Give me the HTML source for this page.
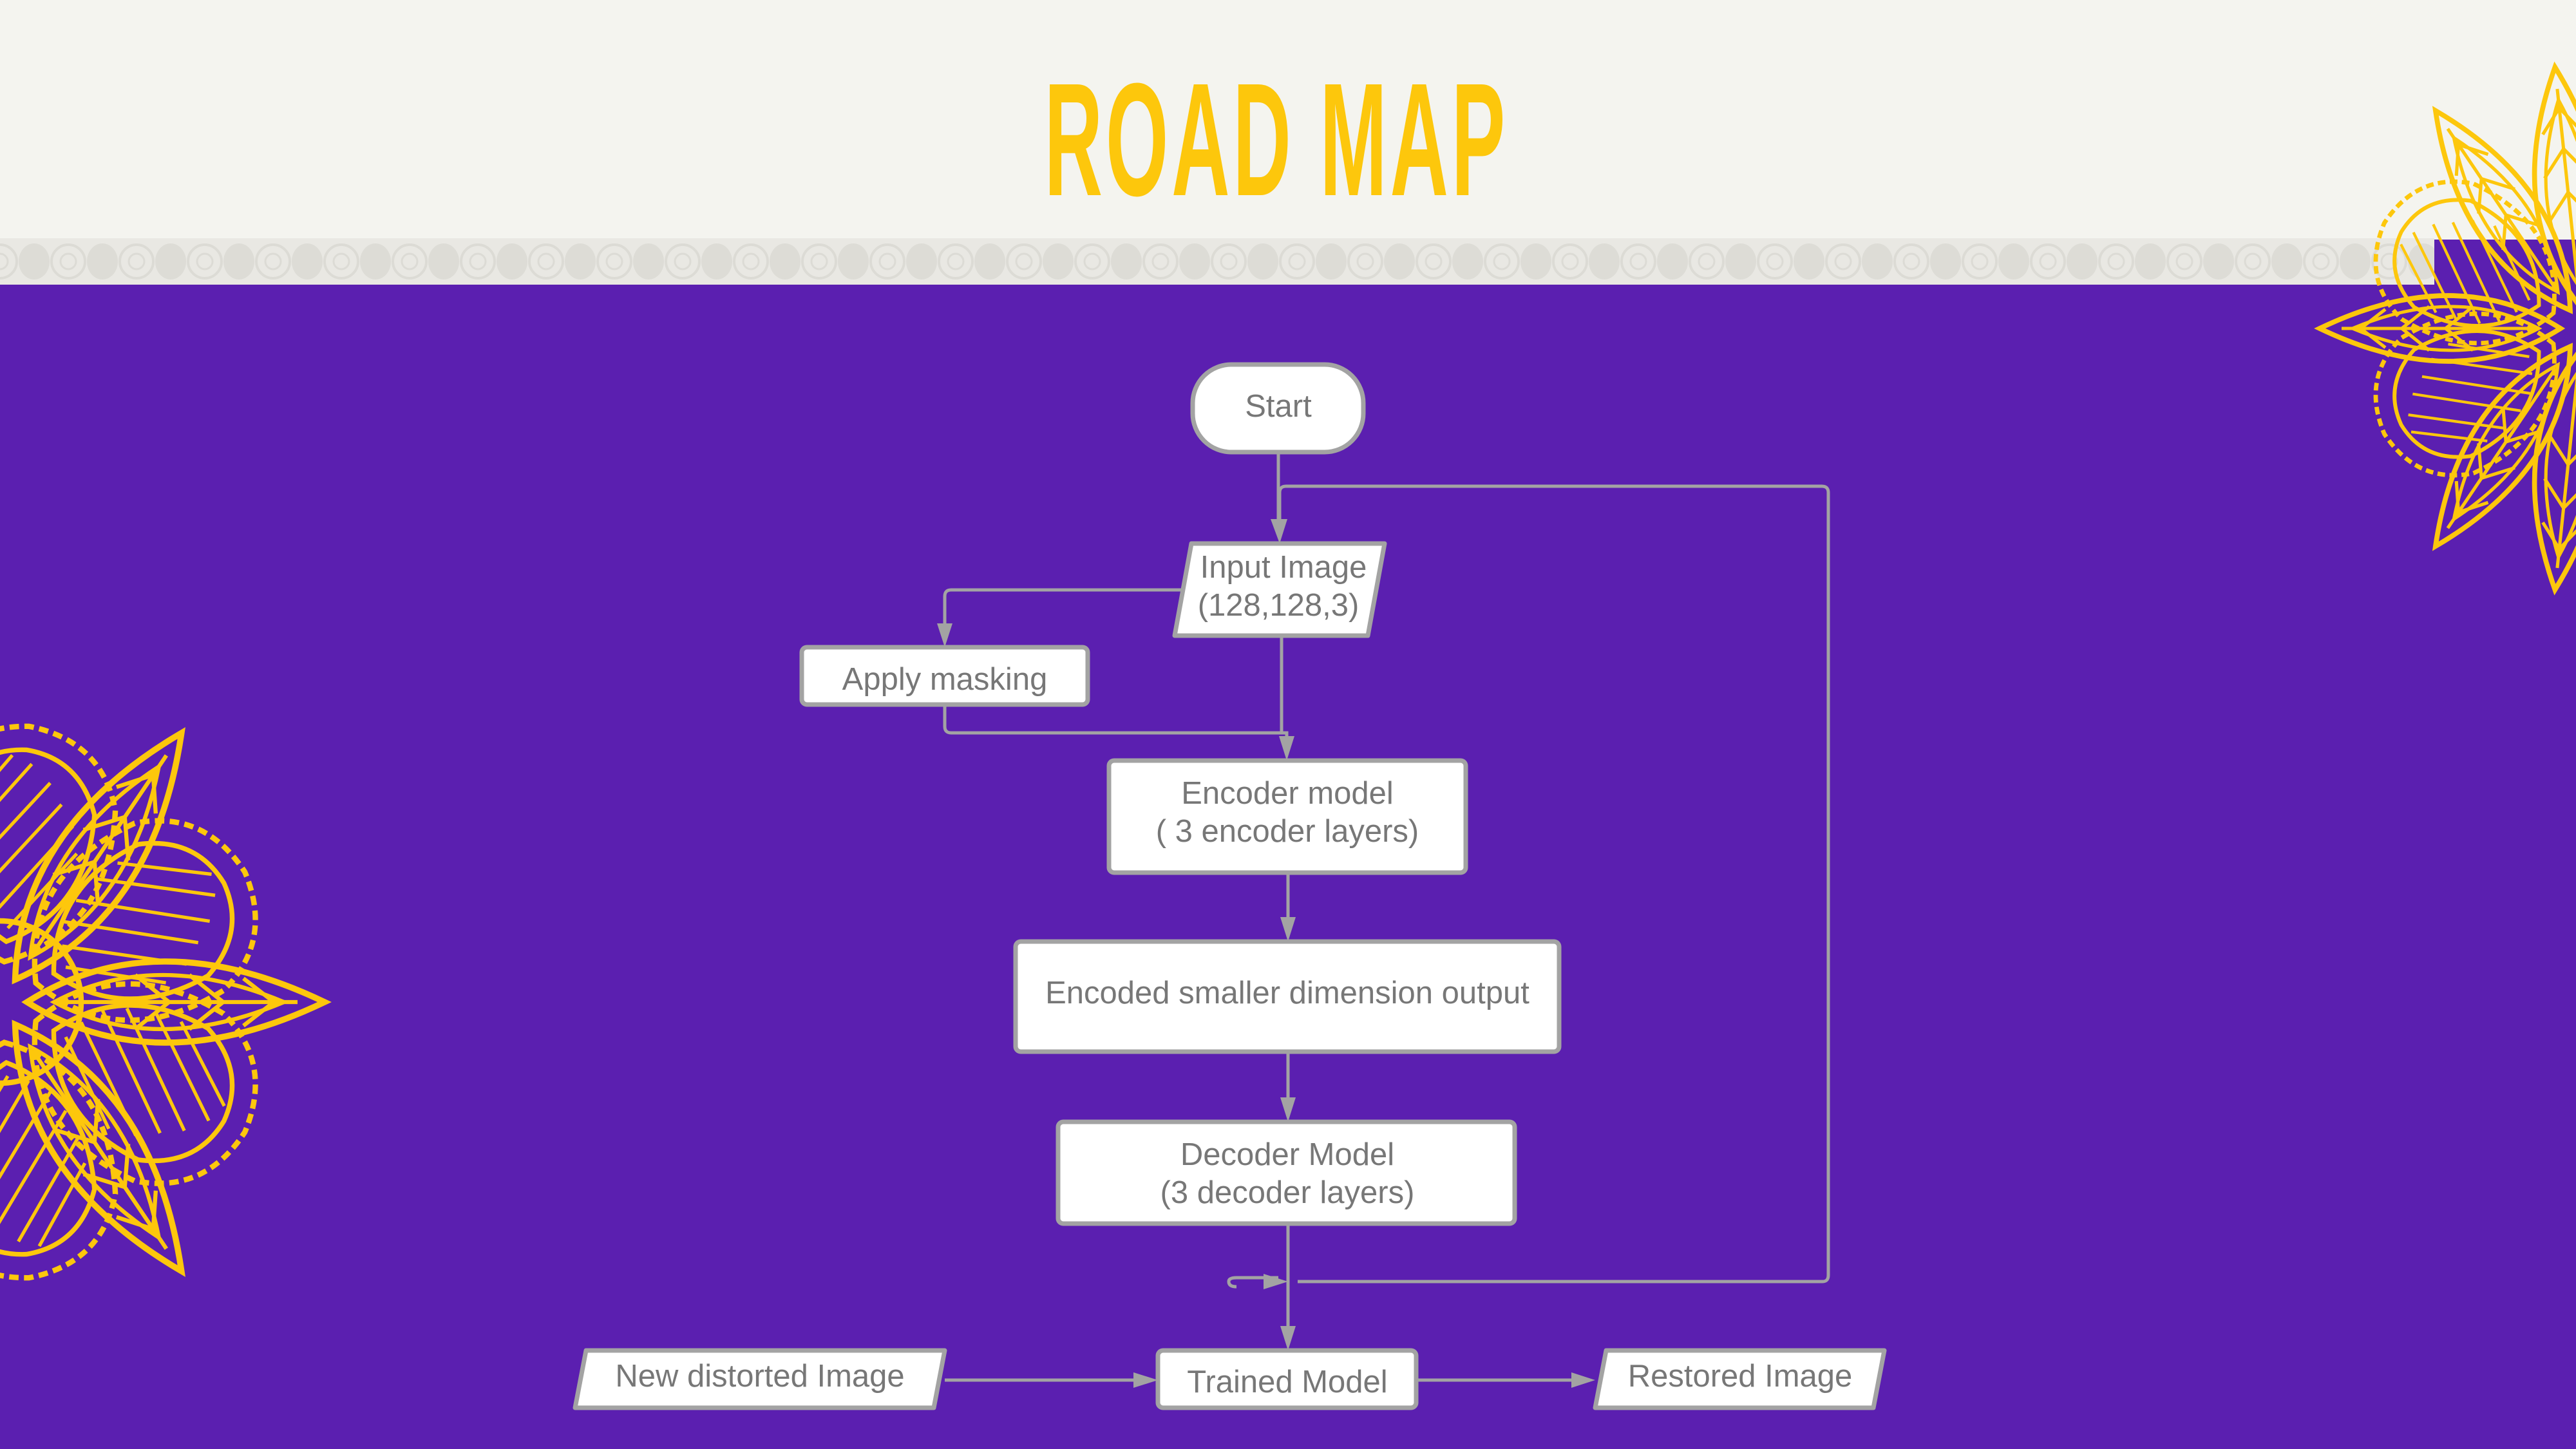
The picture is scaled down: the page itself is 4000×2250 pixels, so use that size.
<!DOCTYPE html>
<html><head><meta charset="utf-8"><style>
html,body{margin:0;padding:0;}
body{width:4000px;height:2250px;position:relative;overflow:hidden;background:#5b1fb0;font-family:"Liberation Sans",sans-serif;}
.hdr{position:absolute;left:0;top:0;width:4000px;height:372px;background:#f4f4ef;}
.title{position:absolute;left:1982px;top:92px;transform:translateX(-50%) scaleX(0.5);transform-origin:center;font-size:250px;font-weight:bold;color:#fdc70c;white-space:nowrap;letter-spacing:10px;line-height:1;}
svg{position:absolute;left:0;top:0;}
</style></head><body>
<div class="hdr"></div>
<svg width="4000" height="2250" viewBox="0 0 4000 2250">
<defs>
<pattern id="band" x="0" y="370" width="106" height="72" patternUnits="userSpaceOnUse">
<rect width="106" height="72" fill="#e9e8e3"/>
<ellipse cx="53" cy="36" rx="24" ry="28" fill="#dddcd6"/>
<circle cx="0" cy="36" r="26" fill="none" stroke="#dcdbd5" stroke-width="4"/>
<circle cx="106" cy="36" r="26" fill="none" stroke="#dcdbd5" stroke-width="4"/>
<circle cx="0" cy="36" r="12" fill="none" stroke="#dcdbd5" stroke-width="3"/>
<circle cx="106" cy="36" r="12" fill="none" stroke="#dcdbd5" stroke-width="3"/>
</pattern>
<g id="petal">
<path d="M40,0 Q230,-120 480,0 Q230,120 40,0Z" fill="none" stroke="#fdc70c" stroke-width="9"/>
<path d="M80,0 Q230,-80 420,0 Q230,80 80,0Z" fill="none" stroke="#fdc70c" stroke-width="6"/>
<line x1="90" y1="0" x2="440" y2="0" stroke="#fdc70c" stroke-width="6"/>
<path d="M200,-40 L250,0 L200,40 M280,-40 L330,0 L280,40 M360,-35 L405,0 L360,35" fill="none" stroke="#fdc70c" stroke-width="6"/>
</g>
<g id="round">
<path d="M60,0 Q120,-150 300,-140 Q400,-110 410,0 Q400,110 300,140 Q120,150 60,0Z" fill="none" stroke="#fdc70c" stroke-width="8" stroke-dasharray="14 8"/>
<path d="M90,0 Q150,-115 290,-110 Q370,-80 375,0 Q370,80 290,110 Q150,115 90,0Z" fill="none" stroke="#fdc70c" stroke-width="7"/>
<path d="M140,-60 L300,60 M170,-80 L330,40 M210,-95 L355,10 M250,-100 L365,-20 M120,-30 L270,80 M110,0 L230,90" stroke="#fdc70c" stroke-width="5"/>
</g>
</defs>
<rect x="0" y="370" width="3780" height="72" fill="url(#band)"/>
<rect x="0" y="442" width="4000" height="1808" fill="#5b1fb0"/>

<!-- left mandala -->
<g transform="translate(0,1556) scale(1.05)">
<use href="#petal" transform="rotate(0)"/>
<use href="#petal" transform="rotate(-56)"/>
<use href="#petal" transform="rotate(56)"/>
<use href="#round" transform="rotate(-28)"/>
<use href="#round" transform="rotate(28)"/>
<use href="#round" transform="rotate(-84)"/>
<use href="#round" transform="rotate(84)"/>
<circle cx="0" cy="0" r="120" fill="none" stroke="#fdc70c" stroke-width="8"/>
</g>
<!-- right mandala -->
<g transform="translate(4010,510) scale(0.85)">
<use href="#petal" transform="rotate(180)"/>
<use href="#petal" transform="rotate(124)"/>
<use href="#petal" transform="rotate(236)"/>
<use href="#round" transform="rotate(152)"/>
<use href="#round" transform="rotate(208)"/>
<use href="#petal" transform="rotate(96)"/>
<use href="#petal" transform="rotate(264)"/>
</g>

<!-- connectors -->
<g fill="none" stroke="#a3a3a3" stroke-width="5">
<path d="M1985,702 V830"/>
<path d="M2015,1990 H2830 Q2839,1990 2839,1980 V765 Q2839,755 2829,755 H1997 Q1987,755 1987,765 V830"/>
<path d="M1837,916 H1477 Q1467,916 1467,926 V990"/>
<path d="M1467,1094 V1128 Q1467,1138 1477,1138 H1998 V1168"/>
<path d="M1990,987 V1138"/>
<path d="M2000,1355 V1448"/>
<path d="M2000,1633 V1728"/>
<path d="M2000,1900 V2083"/>
<path d="M1920,1998 Q1908,1998 1908,1990 Q1908,1984 1920,1984 H1985"/>
<path d="M1467,2143 H1785"/>
<path d="M2199,2143 H2463"/>
</g>
<g fill="#a3a3a3">
<path d="M1973,806 L1999,806 L1987,844Z"/>
<path d="M1455,968 L1479,968 L1467,1005Z"/>
<path d="M1986,1143 L2010,1143 L1998,1181Z"/>
<path d="M1988,1424 L2012,1424 L2000,1462Z"/>
<path d="M1988,1704 L2012,1704 L2000,1742Z"/>
<path d="M1988,2059 L2012,2059 L2000,2097Z"/>
<path d="M1962,1978 L2000,1990 L1962,2002Z"/>
<path d="M1760,2131 L1798,2143 L1760,2155Z"/>
<path d="M2440,2131 L2477,2143 L2440,2155Z"/>
</g>

<!-- nodes -->
<g fill="#ffffff" stroke="#a3a3a3" stroke-width="7">
<rect x="1852" y="566" width="265" height="136" rx="60"/>
<path d="M1850,844 H2150 L2124,987 H1824Z" stroke-linejoin="round"/>
<rect x="1245" y="1005" width="444" height="89" rx="8"/>
<rect x="1722" y="1181" width="554" height="174" rx="8"/>
<rect x="1577" y="1462" width="844" height="171" rx="8"/>
<rect x="1643" y="1742" width="709" height="158" rx="8"/>
<rect x="1798" y="2097" width="401" height="89" rx="8"/>
<path d="M910,2097 H1467 L1450,2186 H893Z" stroke-linejoin="round"/>
<path d="M2494,2097 H2926 L2909,2186 H2477Z" stroke-linejoin="round"/>
</g>
<g fill="#777777" font-family="Liberation Sans, sans-serif" font-size="49" text-anchor="middle">
<text x="1985" y="647">Start</text>
<text x="1993" y="897">Input Image</text>
<text x="1985" y="956">(128,128,3)</text>
<text x="1467" y="1071">Apply masking</text>
<text x="1999" y="1248">Encoder model</text>
<text x="1999" y="1307">( 3 encoder layers)</text>
<text x="1999" y="1558">Encoded smaller dimension output</text>
<text x="1999" y="1809">Decoder Model</text>
<text x="1999" y="1868">(3 decoder layers)</text>
<text x="1999" y="2162">Trained Model</text>
<text x="1180" y="2153">New distorted Image</text>
<text x="2702" y="2153">Restored Image</text>
</g>
</svg>
<div class="title">ROAD MAP</div>
</body></html>
